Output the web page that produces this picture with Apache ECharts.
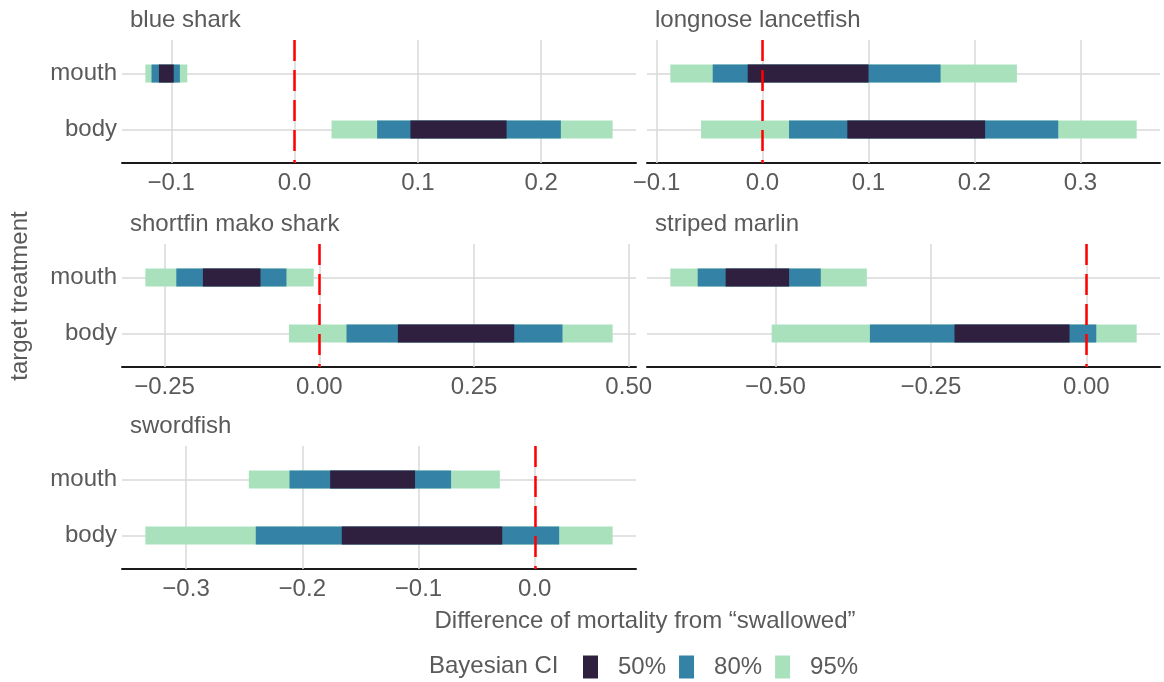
<!DOCTYPE html>
<html>
<head>
<meta charset="utf-8">
<script src="https://cdn.jsdelivr.net/npm/echarts@6/dist/echarts.min.js"></script>
<style>
html,body{margin:0;padding:0;background:#fff;}
#chart{width:1164px;height:682px;}
</style>
</head>
<body>
<div id="chart"></div>
<script>
// ---------- data ----------
const species = ['blue shark', 'longnose lancetfish', 'shortfin mako shark', 'striped marlin', 'swordfish'];
const treatments = ['body', 'mouth'];          // y = 1 -> body, y = 2 -> mouth
const levels = ['50%', '80%', '95%'];

// [low, high] per species, same order as `species`
const mouth95 = [[-0.121, -0.087], [-0.087, 0.240], [-0.281, -0.009], [-0.669, -0.353], [-0.246, -0.030]];
const mouth80 = [[-0.116, -0.093], [-0.047, 0.168], [-0.231, -0.053], [-0.625, -0.427], [-0.211, -0.072]];
const mouth50 = [[-0.110, -0.098], [-0.014, 0.100], [-0.188, -0.095], [-0.580, -0.478], [-0.176, -0.103]];
const body95  = [[0.030, 0.258], [-0.058, 0.353], [-0.049, 0.474], [-0.506, 0.081], [-0.335, 0.067]];
const body80  = [[0.067, 0.216], [0.025, 0.279], [0.044, 0.393], [-0.348, 0.016], [-0.240, 0.021]];
const body50  = [[0.094, 0.172], [0.080, 0.210], [0.127, 0.315], [-0.212, -0.027], [-0.166, -0.028]];

const tickValues = [
  [-0.1, 0, 0.1, 0.2],
  [-0.1, 0, 0.1, 0.2, 0.3],
  [-0.25, 0, 0.25, 0.5],
  [-0.5, -0.25, 0],
  [-0.3, -0.2, -0.1, 0]
];
const tickDecimals = [1, 1, 2, 2, 1];
const refValue = 0;

// ---------- style / layout ----------
const colors = {'50%': '#30203f', '80%': '#3483a6', '95%': '#a9e1bd'};
const FONT = "'Liberation Sans', Arial, sans-serif";
const FS = 24;
const textColor = '#5a5a5a';
const gridColor = '#d8d8d8';
const colLeft = [122, 647], colWidth = [514, 513];
const rowTop = [40, 244, 446], rowHeight = 123;
const barH = 18;

const grids = [], xAxes = [], yAxes = [], series = [];
const levelData = {'95%': [mouth95, body95], '80%': [mouth80, body80], '50%': [mouth50, body50]};

function fmt(v, d) { return v.toFixed(d).replace('-', '\u2212'); }

species.forEach((sp, i) => {
  const col = i % 2, row = Math.floor(i / 2);
  grids.push({left: colLeft[col], top: rowTop[row], width: colWidth[col], height: rowHeight, containLabel: false});
  const lo = Math.min(mouth95[i][0], body95[i][0]);
  const hi = Math.max(mouth95[i][1], body95[i][1]);
  const pad = (hi - lo) * 0.05;
  const d = tickDecimals[i];
  xAxes.push({
    type: 'value', gridIndex: i, min: lo - pad, max: hi + pad,
    axisLine: {show: true, onZero: false, lineStyle: {color: '#1a1a1a', width: 2}},
    axisTick: {show: false, customValues: tickValues[i]},
    splitLine: {show: false},
    axisLabel: {customValues: tickValues[i], formatter: v => fmt(v, d), fontSize: FS, color: textColor, fontFamily: FONT, margin: 8, showMinLabel: true, showMaxLabel: true}
  });
  yAxes.push({
    type: 'value', gridIndex: i, min: 0.4, max: 2.6,
    axisLine: {show: false}, axisTick: {show: false}, splitLine: {show: false},
    axisLabel: {show: col === 0, customValues: [1, 2], formatter: v => treatments[Math.round(v) - 1], fontSize: FS, color: textColor, fontFamily: FONT, margin: 5}
  });
  // grid lines
  series.push({
    type: 'line', xAxisIndex: i, yAxisIndex: i, data: [], silent: true, z: 1,
    markLine: {
      silent: true, symbol: 'none', label: {show: false}, animation: false, z: 1,
      lineStyle: {color: gridColor, type: 'solid', width: 1.5},
      data: tickValues[i].map(v => ({xAxis: v})).concat([{yAxis: 1}, {yAxis: 2}])
    }
  });
  // intervals: widest first
  ['95%', '80%', '50%'].forEach(lv => {
    const [m, b] = levelData[lv];
    series.push({
      type: 'custom', name: lv, xAxisIndex: i, yAxisIndex: i, z: 3,
      itemStyle: {color: colors[lv]},
      encode: {x: [0, 1], y: 2},
      data: [[b[i][0], b[i][1], 1], [m[i][0], m[i][1], 2]],
      renderItem: (params, api) => {
        const p1 = api.coord([api.value(0), api.value(2)]);
        const p2 = api.coord([api.value(1), api.value(2)]);
        return {type: 'rect', shape: {x: p1[0], y: p1[1] - barH / 2, width: p2[0] - p1[0], height: barH},
                style: {fill: api.visual('color')}};
      }
    });
  });
  // reference line
  series.push({
    type: 'line', xAxisIndex: i, yAxisIndex: i, data: [], silent: true, z: 6,
    markLine: {
      silent: true, symbol: 'none', label: {show: false}, animation: false, z: 6,
      lineStyle: {color: '#ff0000', type: [21, 9], dashOffset: 18, width: 2.5},
      data: [{xAxis: refValue}]
    }
  });
});

const graphics = [];
species.forEach((sp, i) => {
  const col = i % 2, row = Math.floor(i / 2);
  graphics.push({type: 'text', x: colLeft[col] + 8, y: rowTop[row] - 20,
    style: {text: sp, fill: textColor, font: FS + 'px ' + FONT, textAlign: 'left', textVerticalAlign: 'middle'}});
});
graphics.push({type: 'text', x: 645, y: 621,
  style: {text: 'Difference of mortality from \u201cswallowed\u201d', fill: textColor, font: FS + 'px ' + FONT, textAlign: 'center', textVerticalAlign: 'middle'}});
graphics.push({type: 'text', x: 20, y: 296, rotation: Math.PI / 2,
  style: {text: 'target treatment', fill: textColor, font: FS + 'px ' + FONT, textAlign: 'center', textVerticalAlign: 'middle'}});
graphics.push({type: 'text', x: 429, y: 666,
  style: {text: 'Bayesian CI', fill: textColor, font: FS + 'px ' + FONT, textAlign: 'left', textVerticalAlign: 'middle'}});

const chart = echarts.init(document.getElementById('chart'));
chart.setOption({
  animation: false,
  backgroundColor: '#ffffff',
  grid: grids, xAxis: xAxes, yAxis: yAxes, series: series,
  legend: {
    data: levels, left: 583, top: 655, padding: 0, icon: 'rect', itemWidth: 15, itemHeight: 23, itemGap: 13,
    selectedMode: false,
    textStyle: {fontSize: FS, color: textColor, fontFamily: FONT, padding: [0, 0, 0, 15]}
  },
  graphic: graphics
});
</script>
</body>
</html>
